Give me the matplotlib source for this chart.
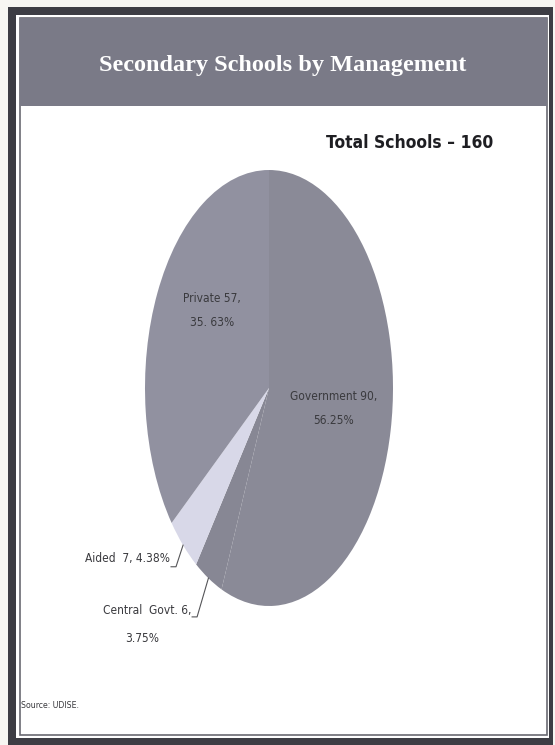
import matplotlib
matplotlib.use("Agg")
import matplotlib.pyplot as plt
import numpy as np
from matplotlib.patches import Rectangle

# Secondary schools by management type
categories = ["Government", "Central Govt.", "Aided", "Private"]
schools = [90, 6, 7, 57]
shares = [56.25, 3.75, 4.38, 35.63]
total_schools = 160

colors = ["#8a8a97", "#878794", "#d8d8e8", "#9191a0"]
text_grey = "#3a3a3e"
narrow = dict(family="DejaVu Sans", fontstretch="condensed")

W, H = 555, 745
fig = plt.figure(figsize=(W / 100, H / 100), dpi=100)
fig.patch.set_facecolor("#f7f6f2")

# page frame + title banner, in pixel coordinates
bg = fig.add_axes([0, 0, 1, 1])
bg.set_xlim(0, W)
bg.set_ylim(H, 0)
bg.axis("off")
bg.add_patch(Rectangle((8, 7), W - 10, H - 7, facecolor="#3d3d44", edgecolor="none"))
bg.add_patch(Rectangle((16, 15), W - 22, H - 22, facecolor="white", edgecolor="none"))
bg.add_patch(Rectangle((19.5, 18), W - 28, H - 28.5, facecolor="white",
                       edgecolor="#6a6a72", linewidth=1.2))
bg.add_patch(Rectangle((20, 18), W - 28.5, 88, facecolor="#7a7a87", edgecolor="none"))
bg.text(283, 66, "Secondary Schools by Management", color="white",
        fontsize=17.5, fontweight="bold", family=["Liberation Serif", "DejaVu Serif"],
        ha="center", va="center")
bg.text(410, 143, f"Total Schools \u2013 {total_schools}", color="#1e1e22",
        fontsize=12.5, fontweight="bold", ha="center", va="center", **narrow)
bg.text(21, 705, "Source: UDISE.", color=text_grey, fontsize=6.3,
        ha="left", va="center", **narrow)

# stretched (elliptical) pie
pax = fig.add_axes([145 / W, 1 - 606 / H, 248 / W, 436 / H])
wedges, _ = pax.pie(schools, colors=colors, startangle=90, counterclock=False,
                    wedgeprops=dict(linewidth=0))
pax.set_aspect("auto")
pax.set_xlim(-1, 1)
pax.set_ylim(-1, 1)
pax.axis("off")

lab = dict(color=text_grey, fontsize=8.6, **narrow)

# inside labels
pax.text(-0.46, 0.41, f"{categories[3]} {schools[3]},", ha="center", va="center", **lab)
pax.text(-0.46, 0.30, "35. 63%", ha="center", va="center", **lab)
pax.text(0.52, -0.04, f"{categories[0]} {schools[0]},", ha="center", va="center", **lab)
pax.text(0.52, -0.15, f"{shares[0]:.2f}%", ha="center", va="center", **lab)

# outside labels with leader lines to the wedge edge
for i, (lx, ly) in [(2, (-0.79, -0.82)), (1, (-0.62, -1.05))]:
    w = wedges[i]
    mid = np.deg2rad((w.theta1 + w.theta2) / 2)
    ex, ey = np.cos(mid), np.sin(mid)
    pax.plot([lx, lx + 0.04, ex], [ly, ly, ey], color="#555558", lw=0.8,
             clip_on=False)
    if i == 2:
        pax.text(lx - 0.01, ly + 0.04, f"{categories[i]}  {schools[i]}, {shares[i]:.2f}%",
                 ha="right", va="center", **lab)
    else:
        pax.text(lx - 0.01, ly + 0.03, f"Central  Govt. {schools[i]},",
                 ha="right", va="center", **lab)
        pax.text(lx - 0.40, ly - 0.10, f"{shares[i]:.2f}%",
                 ha="center", va="center", **lab)

fig.savefig("out.png", dpi=100, facecolor=fig.get_facecolor())
